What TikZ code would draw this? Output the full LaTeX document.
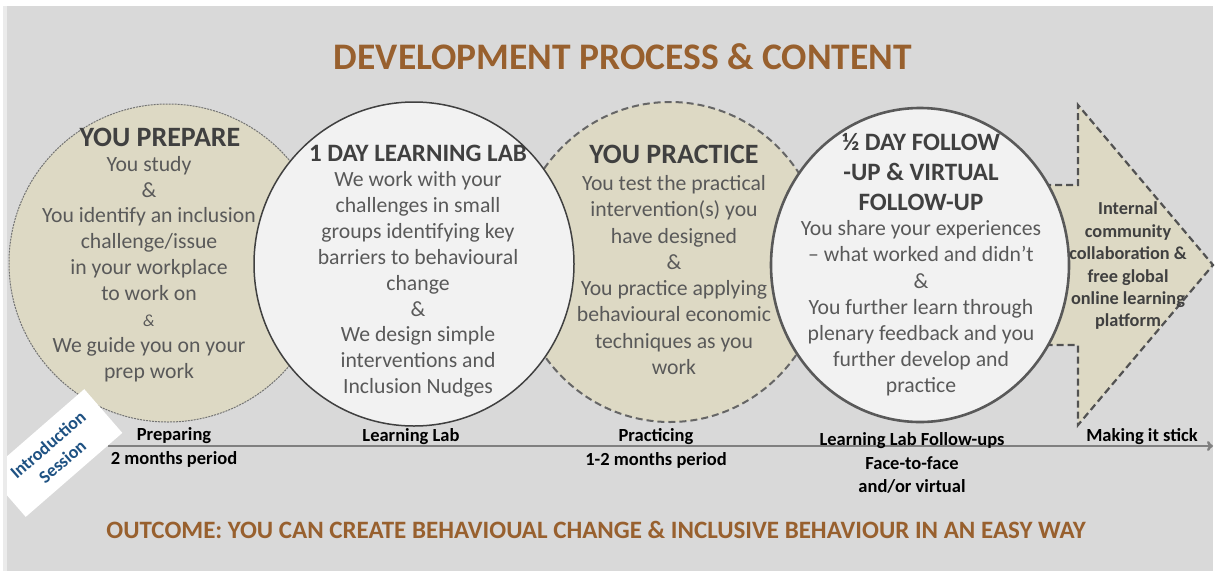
\documentclass[tikz,border=0pt]{standalone}
\usepackage{fontspec}
\setmainfont{Carlito}
\usetikzlibrary{arrows.meta}
\definecolor{panelgray}{HTML}{D9D9D9}
\definecolor{tan}{HTML}{DDD9C4}
\definecolor{offwhite}{HTML}{F2F2F2}
\definecolor{brown}{HTML}{98602E}
\definecolor{headgray}{HTML}{404040}
\definecolor{bodygray}{HTML}{595959}
\definecolor{introblue}{HTML}{1F5283}
\tikzset{
  headline/.style={font=\fontsize{37.5}{42}\selectfont\bfseries, text=brown, inner sep=0},
  circhead/.style={font=\fontsize{28}{30}\selectfont\bfseries, text=headgray, align=center, inner sep=0},
  circbody/.style={font=\fontsize{21.7}{25.9}\selectfont, text=bodygray, align=center, inner sep=0},
  phase/.style={font=\fontsize{18.5}{22.5}\selectfont\bfseries, text=black, align=center, inner sep=0},
  tanlight/.style={fill=tan, draw=black!55, line width=1pt, dash pattern=on 2pt off 1pt},
  tandash/.style={fill=tan, draw=black!60, line width=2pt, dash pattern=on 7pt off 4pt},
  whitecirc/.style={fill=offwhite, draw=headgray, line width=1.5pt},
  whitecircbold/.style={fill=offwhite, draw=bodygray, line width=2.6pt},
  timeline/.style={draw=black!50, line width=2.5pt, -{To[length=6pt,width=10pt]}},
}
\begin{document}
\begin{tikzpicture}[x=1pt,y=-1pt]
\useasboundingbox (0,0) rectangle (1215,571);
% background panel
\fill[white] (0,0) rectangle (1215,571);
\fill[panelgray] (3,6) rectangle (1213,571);
\fill[black!8] (3,6) rectangle (7,571);

% title
\node[headline] (title) at (623,57) {DEVELOPMENT PROCESS \& CONTENT};

% phase shapes, back to front
\draw[tanlight] (168,263) circle[radius=159];
\draw[tandash] (670,262) ellipse[x radius=155, y radius=160];
\draw[tandash, line width=2.2pt, draw=black!68]
  (1000,185) -- (1078,185) -- (1078,105) -- (1213,265) -- (1078,425) -- (1078,345) -- (1000,345) -- cycle;
\draw[whitecirc] (414,264) ellipse[x radius=160, y radius=162];
\draw[whitecircbold] (920,265) ellipse[x radius=149, y radius=157];

% you prepare
\node[circhead] (prephead) at (160,137) {YOU PREPARE};
\node[circbody] (prepbody) at (149,269) {You study\\\&\\You identify an inclusion\\challenge/issue\\in your workplace\\to work on\\{\fontsize{17}{18}\selectfont\itshape\&}\\We guide you on your\\prep work};

% learning lab
\node[circhead, font=\fontsize{25}{30}\selectfont\bfseries] (labhead) at (418,153) {1 DAY LEARNING LAB};
\node[circbody] (labbody) at (418,284.5) {We work with your\\challenges in small\\groups identifying key\\barriers to behavioural\\change\\\&\\We design simple\\interventions and\\Inclusion Nudges};

% you practice
\node[circhead] (prachead) at (674,154) {YOU PRACTICE};
\node[circbody, font=\fontsize{21.7}{26.3}\selectfont] (pracbody) at (674,275) {You test the practical\\intervention(s) you\\have designed\\\&\\You practice applying\\behavioural economic\\techniques as you\\work};

% follow-up
\node[circhead, font=\fontsize{25}{30}\selectfont\bfseries] (fuphead) at (921,172) {½ DAY FOLLOW\\-UP \& VIRTUAL\\FOLLOW-UP};
\node[circbody, font=\fontsize{21.7}{26.2}\selectfont] (fupbody) at (921,308.5) {You share your experiences\\– what worked and didn’t\\\&\\You further learn through\\plenary feedback and you\\further develop and\\practice};

% making it stick
\node[circbody, font=\fontsize{18.3}{22.4}\selectfont\bfseries, text=headgray] (stickbody) at (1128,266) {Internal\\community\\collaboration \&\\free global\\online learning\\platform};

% timeline
\coordinate (tlstart) at (108,446);
\coordinate (tlend) at (1213,446);
\draw[timeline] (tlstart) -- (tlend);

\node[phase] (ph1) at (174,436) {Preparing};
\node[phase] (ph1b) at (174,459) {2 months period};
\node[phase] (ph2) at (411,437) {Learning Lab};
\node[phase] (ph3) at (656,437) {Practicing};
\node[phase] (ph3b) at (656,460) {1-2 months period};
\node[phase] (ph4) at (912,441) {Learning Lab Follow-ups};
\node[phase] (ph4b) at (912,475) {Face-to-face\\and/or virtual};
\node[phase] (ph5) at (1142,437) {Making it stick};

% introduction session tag
\begin{scope}
\clip (7,6) rectangle (1213,571);
\node[fill=white, rotate=41, minimum width=128, minimum height=58, inner sep=0,
      font=\fontsize{18}{22}\selectfont\bfseries, text=introblue, align=center]
  (intro) at (55,453) {Introduction\\Session};
\end{scope}

% outcome
\node[headline, font=\fontsize{25}{28}\selectfont\bfseries] (outcome) at (596,530)
  {OUTCOME: YOU CAN CREATE BEHAVIOUAL CHANGE \& INCLUSIVE BEHAVIOUR IN AN EASY WAY};
\end{tikzpicture}
\end{document}
